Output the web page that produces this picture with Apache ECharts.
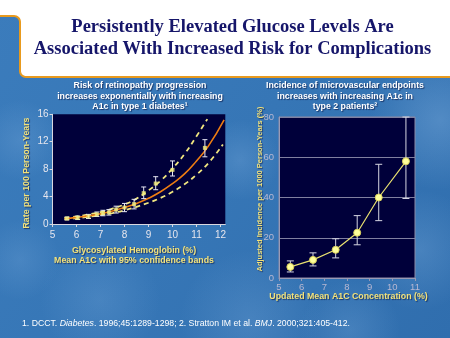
<!DOCTYPE html>
<html><head><meta charset="utf-8">
<script src="https://cdn.jsdelivr.net/npm/echarts@6/dist/echarts.min.js"></script>
<style>html,body{margin:0;padding:0;background:#3575b4}#c{width:450px;height:338px}</style>
</head><body><div id="c"></div>
<script>
// ---- text ----
const titleLines = ['Persistently Elevated Glucose Levels Are', 'Associated With Increased Risk for Complications'];
const leftSubtitle = ['Risk of retinopathy progression', 'increases exponentially with increasing', 'A1c in type 1 diabetes\u00B9'];
const rightSubtitle = ['Incidence of microvascular endpoints', 'increases with increasing A1c in', 'type 2 patients\u00B2'];
const leftXName = ['Glycosylated Hemoglobin (%)', 'Mean A1C with 95% confidence bands'];
const leftYName = 'Rate per 100 Person-Years';
const rightXName = 'Updated Mean A1C Concentration (%)';
const rightYName = 'Adjusted Incidence per 1000 Person-Years (%)';

// ---- left chart (DCCT) ----
const leftXTicks = [5, 6, 7, 8, 9, 10, 11, 12];
const leftYTicks = [0, 4, 8, 12, 16];
const retA1c = [5.6, 6.05, 6.5, 6.85, 7.1, 7.35, 7.65, 8.0, 8.4, 8.8, 9.3, 10.0, 11.35];
const retRate = [0.8, 0.9, 1.1, 1.4, 1.6, 1.7, 2.1, 2.4, 2.9, 4.5, 5.9, 7.9, 11.1];
const retLo = [0.6, 0.65, 0.8, 1.1, 1.2, 1.3, 1.6, 1.8, 2.2, 3.7, 5.0, 7.0, 9.8];
const retHi = [1.0, 1.15, 1.4, 1.75, 2.0, 2.1, 2.6, 3.0, 3.6, 5.4, 6.9, 9.2, 12.3];
const fitA1c = [5.5, 6, 6.5, 7, 7.5, 8, 8.5, 9, 9.5, 10, 10.5, 11, 11.5, 12.15];
const fitRate = [0.78, 0.97, 1.2, 1.5, 1.9, 2.4, 3.0, 3.75, 4.7, 5.9, 7.3, 9.2, 11.4, 15.2];
const upperA1c = [5.5, 6, 6.5, 7, 7.5, 8, 8.5, 9, 9.5, 10, 10.5, 11, 11.45];
const upperRate = [0.9, 1.1, 1.4, 1.75, 2.25, 2.85, 3.7, 4.9, 6.3, 8.1, 10.2, 12.8, 15.3];
const lowerA1c = [5.5, 6, 6.5, 7, 7.5, 8, 8.5, 9, 9.5, 10, 10.5, 11, 11.5, 12.1];
const lowerRate = [0.7, 0.85, 1.05, 1.3, 1.6, 2.0, 2.5, 3.1, 3.8, 4.7, 5.8, 7.2, 8.9, 11.6];

// ---- right chart (UKPDS) ----
const rightXTicks = [5, 6, 7, 8, 9, 10, 11];
const rightYTicks = [0, 20, 40, 60, 80];
const microA1c = [5.5, 6.5, 7.5, 8.45, 9.4, 10.6];
const microRate = [5.5, 9, 14, 22.5, 40, 58];
const microLo = [3, 6, 10, 16.5, 28.5, 39.5];
const microHi = [8.5, 12.5, 19.5, 31, 56.5, 80];

const footnoteParts = [['n', '1. DCCT. '], ['i', 'Diabetes'], ['n', '. 1996;45:1289-1298; 2. Stratton IM et al. '], ['i', 'BMJ'], ['n', '. 2000;321:405-412.']];

const zip = (a, b) => a.map((v, i) => [v, b[i]]);
const zip3 = (a, b, c) => a.map((v, i) => [v, b[i], c[i]]);

function errRender(cap, color) {
  return function (params, api) {
    const x = api.value(0), lo = api.value(1), hi = api.value(2);
    const a = api.coord([x, lo]), b = api.coord([x, hi]);
    const st = { stroke: color, lineWidth: 1 };
    return { type: 'group', children: [
      { type: 'line', shape: { x1: a[0], y1: a[1], x2: b[0], y2: b[1] }, style: st },
      { type: 'line', shape: { x1: a[0] - cap, y1: a[1], x2: a[0] + cap, y2: a[1] }, style: st },
      { type: 'line', shape: { x1: b[0] - cap, y1: b[1], x2: b[0] + cap, y2: b[1] }, style: st }
    ] };
  };
}

// white title panel outline (decoration)
function panelPoints() {
  const pts = [[-3, -3], [453, -3], [453, 77]];
  for (let k = 0; k <= 8; k++) { const t = Math.PI / 2 + k * Math.PI / 16; pts.push([26 + 6 * Math.cos(t), 71 + 6 * Math.sin(t)]); }
  for (let k = 0; k <= 8; k++) { const t = -k * Math.PI / 16; pts.push([14 + 6 * Math.cos(t), 22 + 6 * Math.sin(t)]); }
  pts.push([-3, 16]);
  return pts;
}

const SANS = '"Liberation Sans", Arial, sans-serif';
const SHADOW = { textShadowColor: 'rgba(0,0,40,0.55)', textShadowBlur: 1, textShadowOffsetX: 1, textShadowOffsetY: 1 };
const subStyle = (txt, x, y) => ({ type: 'text', x: x, y: y, z: 100, style: Object.assign({ text: txt, fill: '#ffffff', font: 'bold 8.8px ' + SANS, textAlign: 'center', textVerticalAlign: 'bottom' }, SHADOW) });
const yelStyle = (txt, x, y, size) => ({ type: 'text', x: x, y: y, z: 100, style: Object.assign({ text: txt, fill: '#f2e27a', font: 'bold ' + size + 'px ' + SANS, textAlign: 'center', textVerticalAlign: 'bottom' }, SHADOW) });

const cloud = (x, y, r, a) => ({ type: 'circle', z: -9, shape: { cx: x, cy: y, r: r }, style: { fill: { type: 'radial', x: 0.5, y: 0.5, r: 0.5, colorStops: [{ offset: 0, color: 'rgba(140,185,230,' + a + ')' }, { offset: 1, color: 'rgba(140,185,230,0)' }] } } });

const graphics = [
  { type: 'rect', z: -10, shape: { x: 0, y: 0, width: 450, height: 338 }, style: { fill: { type: 'linear', x: 0, y: 0, x2: 1, y2: 1, colorStops: [{ offset: 0, color: '#3b7cbc' }, { offset: 0.5, color: '#3676b6' }, { offset: 1, color: '#306eae' }] } } },
  cloud(440, 120, 70, 0.35), cloud(420, 250, 60, 0.25), cloud(250, 320, 70, 0.22), cloud(100, 300, 60, 0.2),
  cloud(20, 140, 40, 0.22), cloud(240, 160, 40, 0.25), cloud(350, 330, 50, 0.22), cloud(20, 260, 40, 0.2),
  { type: 'polygon', z: -5, shape: { points: panelPoints() }, style: { fill: '#ffffff', stroke: '#e89a1e', lineWidth: 2 } },
  { type: 'text', x: 232.5, y: 27, z: 100, style: { text: titleLines[0], fill: '#16166a', font: 'bold 18.5px "Liberation Serif", "Times New Roman", serif', textAlign: 'center', textVerticalAlign: 'middle' } },
  { type: 'text', x: 232.5, y: 49.5, z: 100, style: { text: titleLines[1], fill: '#16166a', font: 'bold 18.5px "Liberation Serif", "Times New Roman", serif', textAlign: 'center', textVerticalAlign: 'middle' } },
  subStyle(leftSubtitle[0], 140, 90), subStyle(leftSubtitle[1], 140, 100.7), subStyle(leftSubtitle[2], 140, 111.5),
  subStyle(rightSubtitle[0], 345, 90), subStyle(rightSubtitle[1], 345, 100.7), subStyle(rightSubtitle[2], 345, 111.5),
  yelStyle(leftXName[0], 134, 255.5, 8.8), yelStyle(leftXName[1], 134, 265.5, 8.8),
  yelStyle(rightXName, 348.5, 301, 8.8),
  { type: 'text', x: 27, y: 173, rotation: Math.PI / 2, z: 100, style: Object.assign({ text: leftYName, fill: '#f2e27a', font: 'bold 8.8px ' + SANS, textAlign: 'center', textVerticalAlign: 'middle' }, SHADOW) },
  { type: 'text', x: 259.5, y: 189, rotation: Math.PI / 2, z: 100, style: Object.assign({ text: rightYName, fill: '#f2e27a', font: 'bold 7.5px ' + SANS, textAlign: 'center', textVerticalAlign: 'middle' }, SHADOW) },
  { type: 'text', x: 22, y: 323.5, z: 100, style: {
      text: footnoteParts.map(p => '{' + p[0] + '|' + p[1] + '}').join(''),
      textVerticalAlign: 'middle',
      rich: { n: { fill: '#ffffff', fontSize: 8.7, fontFamily: SANS }, i: { fill: '#ffffff', fontSize: 8.7, fontFamily: SANS, fontStyle: 'italic' } },
      fill: '#ffffff', font: '8.7px ' + SANS } }
];

const chart = echarts.init(document.getElementById('c'), null, { renderer: 'canvas' });
const axLabel = (color, size, margin, vals) => ({ color: color, fontSize: size, fontFamily: SANS, margin: margin, customValues: vals });
chart.setOption({
  animation: false,
  backgroundColor: '#3575b4',
  graphic: { elements: graphics },
  grid: [
    { left: 52.5, top: 114.3, width: 172.8, height: 109.7, show: true, backgroundColor: '#00003a', borderWidth: 0 },
    { left: 279, top: 117, width: 136, height: 161, show: true, backgroundColor: '#00003a', borderColor: '#8a8aa6', borderWidth: 1 }
  ],
  xAxis: [
    { gridIndex: 0, type: 'value', min: 5, max: 12.2,
      axisLine: { show: true, lineStyle: { color: '#d8d8e0', width: 1 } },
      axisTick: { show: true, length: 3, customValues: leftXTicks, lineStyle: { color: '#d8d8e0' } },
      axisLabel: axLabel('#e6e6ee', 10, 6, leftXTicks), splitLine: { show: false } },
    { gridIndex: 1, type: 'value', min: 5, max: 11, interval: 1,
      axisLine: { show: true, lineStyle: { color: '#9a9ab4', width: 1 } },
      axisTick: { show: true, length: 3, customValues: rightXTicks, lineStyle: { color: '#9a9ab4' } },
      axisLabel: axLabel('#b8b8d2', 9.5, 4, rightXTicks), splitLine: { show: false } }
  ],
  yAxis: [
    { gridIndex: 0, type: 'value', min: 0, max: 16, interval: 4,
      axisLine: { show: true, lineStyle: { color: '#d8d8e0', width: 1 } },
      axisTick: { show: true, length: 3, customValues: leftYTicks, lineStyle: { color: '#d8d8e0' } },
      axisLabel: axLabel('#e6e6ee', 10, 4, leftYTicks), splitLine: { show: false } },
    { gridIndex: 1, type: 'value', min: 0, max: 80, interval: 20,
      axisLine: { show: true, lineStyle: { color: '#9a9ab4', width: 1 } },
      axisTick: { show: false },
      axisLabel: axLabel('#b8b8d2', 9.5, 5, rightYTicks),
      splitLine: { show: true, lineStyle: { color: '#8080a0', width: 1 } } }
  ],
  series: [
    { type: 'line', xAxisIndex: 0, yAxisIndex: 0, data: zip(upperA1c, upperRate), smooth: true, showSymbol: false, lineStyle: { color: '#f0e680', width: 1.8, type: [5, 4] }, z: 3 },
    { type: 'line', xAxisIndex: 0, yAxisIndex: 0, data: zip(lowerA1c, lowerRate), smooth: true, showSymbol: false, lineStyle: { color: '#f0e680', width: 1.8, type: [5, 4] }, z: 3 },
    { type: 'line', xAxisIndex: 0, yAxisIndex: 0, data: zip(fitA1c, fitRate), smooth: true, showSymbol: false, lineStyle: { color: '#ee7d12', width: 1.6 }, z: 4 },
    { type: 'custom', xAxisIndex: 0, yAxisIndex: 0, data: zip3(retA1c, retLo, retHi), renderItem: errRender(2.5, '#e8e8f4'), encode: { x: 0, y: [1, 2] }, z: 5 },
    { type: 'scatter', xAxisIndex: 0, yAxisIndex: 0, data: zip(retA1c, retRate), symbol: 'rect', symbolSize: 4, itemStyle: { color: '#f2ee7a' }, z: 6 },
    { type: 'custom', xAxisIndex: 1, yAxisIndex: 1, data: zip3(microA1c, microLo, microHi), renderItem: errRender(3.5, '#d6d6e2'), encode: { x: 0, y: [1, 2] }, z: 5 },
    { type: 'line', xAxisIndex: 1, yAxisIndex: 1, data: zip(microA1c, microRate), symbol: 'circle', symbolSize: 7, lineStyle: { color: '#e8e070', width: 1.2 }, itemStyle: { color: '#ffff9a', borderColor: '#d8cf5a', borderWidth: 1 }, z: 6 }
  ]
});
</script></body></html>
